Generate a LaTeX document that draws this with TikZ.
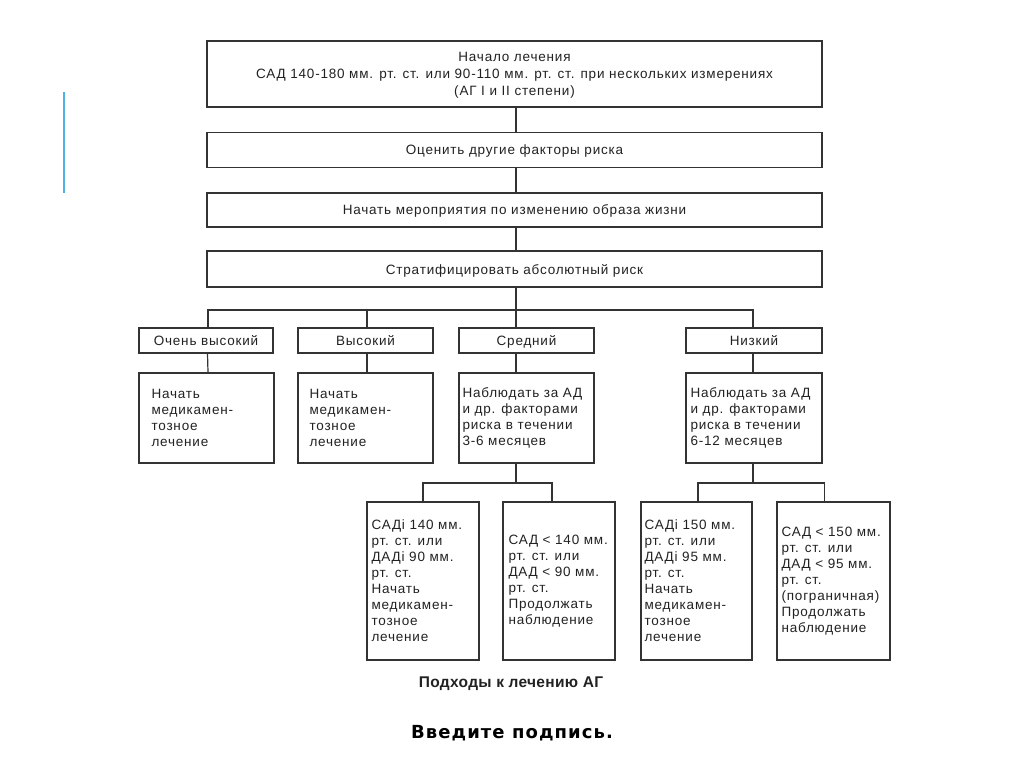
\documentclass[tikz,border=0pt]{standalone}
\usepackage{fontspec}
\setmainfont{Liberation Sans}[LetterSpace=6]
\newfontfamily\capfontA{Liberation Sans}[LetterSpace=2]
\newfontfamily\capfontB{DejaVu Sans}[LetterSpace=6]
\definecolor{ink}{HTML}{222222}
\definecolor{lineclr}{HTML}{333333}
\definecolor{bluebar}{HTML}{4DB3E6}
\begin{document}
\begin{tikzpicture}[x=1pt,y=-1pt,
  every node/.style={text=ink},
  txt/.style={font=\fontsize{13.5}{16}\selectfont},
  boxc/.style={draw=lineclr, line width=1.4pt, fill=white, txt, align=center, inner sep=0pt, text depth=0pt},
  boxe/.style={draw=lineclr, line width=1.4pt, fill=white, inner sep=0pt},
  txtl/.style={txt, align=left, anchor=west, inner sep=0pt},
  conn/.style={draw=lineclr, line width=1.2pt}]
\useasboundingbox (0,0) rectangle (1024,768);
\fill[white] (0,0) rectangle (1024,768);
\draw[bluebar, line width=2pt] (64,92) -- (64,193);

% top chain
\node[boxc, minimum width=615pt, minimum height=66pt, font=\fontsize{13.5}{17}\selectfont] (b1) at (514.5,74)
  {Начало лечения\\САД 140-180 мм. рт. ст. или 90-110 мм. рт. ст. при нескольких измерениях\\(АГ I и II степени)};
\node[boxc, minimum width=615pt, minimum height=35pt] (b2) at (514.5,150) {Оценить другие факторы риска};
\node[boxc, minimum width=615pt, minimum height=34pt] (b3) at (514.5,210) {Начать мероприятия по изменению образа жизни};
\node[boxc, minimum width=615pt, minimum height=36pt] (b4) at (514.5,269) {Стратифицировать абсолютный риск};

% levels
\node[boxc, minimum width=134pt, minimum height=25pt] (l1) at (206,340.5) {Очень высокий};
\node[boxc, minimum width=135pt, minimum height=25pt] (l2) at (365.5,340.5) {Высокий};
\node[boxc, minimum width=135pt, minimum height=25pt] (l3) at (526.5,340.5) {Средний};
\node[boxc, minimum width=136pt, minimum height=25pt] (l4) at (754,340.5) {Низкий};

% detail boxes
\node[boxe, minimum width=135pt, minimum height=90pt] (d1) at (206.5,418) {};
\node[boxe, minimum width=135pt, minimum height=90pt] (d2) at (365.5,418) {};
\node[boxe, minimum width=135pt, minimum height=90pt] (d3) at (526.5,418) {};
\node[boxe, minimum width=136pt, minimum height=90pt] (d4) at (754,418) {};
\node[txtl] (d1t) at ([xshift=13pt]d1.west) {Начать\\медикамен-\\тозное\\лечение};
\node[txtl] (d2t) at ([xshift=12pt]d2.west) {Начать\\медикамен-\\тозное\\лечение};
\node[txtl] (d3t) at ([xshift=4pt]d3.west) {Наблюдать за АД\\и др. факторами\\риска в течении\\3-6 месяцев};
\node[txtl] (d4t) at ([xshift=5pt]d4.west) {Наблюдать за АД\\и др. факторами\\риска в течении\\6-12 месяцев};

% lower boxes
\node[boxe, minimum width=112pt, minimum height=158pt] (e1) at (423,581) {};
\node[boxe, minimum width=112pt, minimum height=158pt] (e2) at (559,581) {};
\node[boxe, minimum width=111pt, minimum height=158pt] (e3) at (696.5,581) {};
\node[boxe, minimum width=113pt, minimum height=158pt] (e4) at (833.5,581) {};
\node[txtl] (e1t) at ([xshift=5pt]e1.west) {САДi 140 мм.\\рт. ст. или\\ДАДi 90 мм.\\рт. ст.\\Начать\\медикамен-\\тозное\\лечение};
\node[txtl] (e2t) at ([xshift=6pt]e2.west) {САД < 140 мм.\\рт. ст. или\\ДАД < 90 мм.\\рт. ст.\\Продолжать\\наблюдение};
\node[txtl] (e3t) at ([xshift=4pt]e3.west) {САДi 150 мм.\\рт. ст. или\\ДАДi 95 мм.\\рт. ст.\\Начать\\медикамен-\\тозное\\лечение};
\node[txtl] (e4t) at ([xshift=5pt]e4.west) {САД < 150 мм.\\рт. ст. или\\ДАД < 95 мм.\\рт. ст.\\(пограничная)\\Продолжать\\наблюдение};

% connectors
\coordinate (t1) at (516,107);
\coordinate (bar) at (516,310);
\coordinate (midL) at (516,483);
\coordinate (midR) at (753,483);
\draw[conn] (b1.south -| t1) -- (b2.north -| t1);
\draw[conn] (b2.south -| t1) -- (b3.north -| t1);
\draw[conn] (b3.south -| t1) -- (b4.north -| t1);
\draw[conn] (b4.south -| t1) -- (bar);
\draw[conn] ([xshift=2pt]l1.north) |- (bar) -| ([xshift=-1pt]l4.north);
\draw[conn] ([xshift=1.5pt]l2.north) -- ([xshift=1.5pt]l2.north |- bar);
\draw[conn] (bar) -- (l3.north -| bar);
\draw[conn] ([xshift=1.5pt]l1.south) -- ([xshift=1.5pt]d1.north);
\draw[conn] ([xshift=1.5pt]l2.south) -- ([xshift=1.5pt]d2.north);
\draw[conn] (l3.south -| bar) -- (d3.north -| bar);
\draw[conn] ([xshift=-1pt]l4.south) -- ([xshift=-1pt]d4.north);
\draw[conn] (d3.south -| bar) -- (midL);
\draw[conn] (e1.north) |- (midL) -| ([xshift=-7pt]e2.north);
\draw[conn] ([xshift=-1pt]d4.south) -- (midR);
\draw[conn] ([xshift=1.5pt]e3.north) |- (midR) -| ([xshift=-9pt]e4.north);

% captions
\node[font=\capfontA\bfseries\fontsize{15.5}{18}\selectfont] (cap1) at (511,684) {Подходы к лечению АГ};
\node[font=\capfontB\bfseries\fontsize{18}{21}\selectfont, text=black] (cap2) at (512,733) {Введите подпись.};
\end{tikzpicture}
\end{document}
